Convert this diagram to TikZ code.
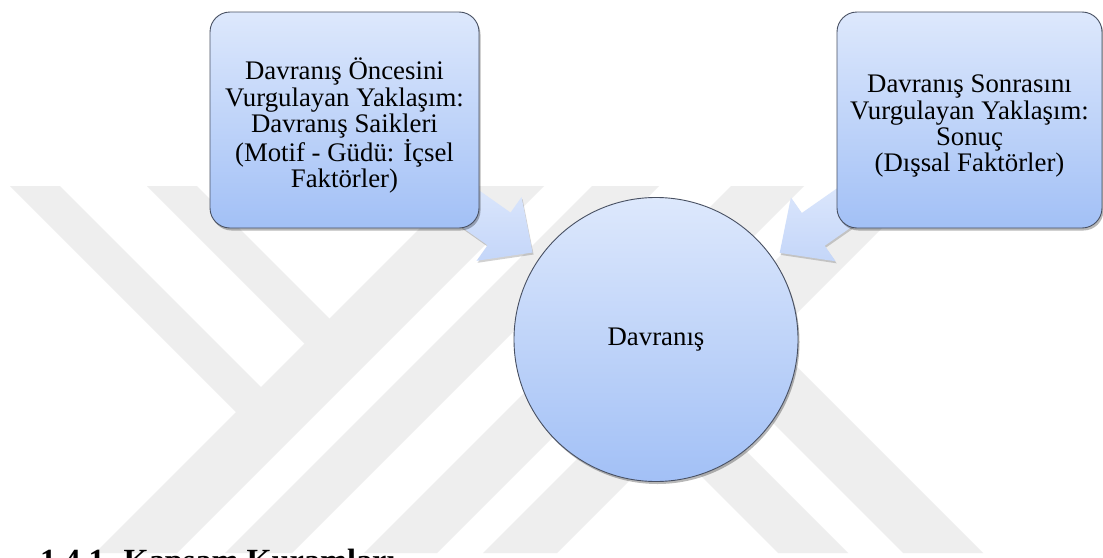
\documentclass[tikz,border=0pt]{standalone}
\usepackage{fontspec}
\setmainfont{Liberation Serif}
\usetikzlibrary{calc,shadows}
\definecolor{wm}{RGB}{238,238,238}
\definecolor{boxtop}{RGB}{221,232,252}
\definecolor{boxbot}{RGB}{162,192,246}
\definecolor{arrtop}{RGB}{223,233,252}
\definecolor{arrbot}{RGB}{196,214,249}
\definecolor{edge}{RGB}{72,80,98}
\pgfdeclarelayer{wmark}
\pgfdeclarelayer{arrows}
\pgfsetlayers{wmark,arrows,main}
\tikzset{
  stripe/.style={fill=wm, draw=none},
  softshadow/.style={drop shadow={shadow xshift=1.5pt, shadow yshift=-2.5pt, opacity=0.28, fill=black}},
  pbox/.style={draw=edge, line width=0.9pt, rounded corners=20pt,
    top color=boxtop, bottom color=boxbot, align=center, inner sep=0pt,
    font=\fontsize{26.8}{26.3}\selectfont, softshadow},
  pcircle/.style={circle, draw=edge, line width=0.9pt, minimum size=284pt,
    top color=boxtop, bottom color=boxbot, inner sep=0pt,
    font=\fontsize{26.8}{26.3}\selectfont, softshadow},
  barrow/.style={top color=arrtop, bottom color=arrbot, draw=none,
    drop shadow={shadow xshift=1pt, shadow yshift=-2pt, opacity=0.18, fill=black}},
  heading/.style={anchor=base west, inner sep=0pt, font=\bfseries\fontsize{32.3}{36}\selectfont}
}
\begin{document}
\begin{tikzpicture}[x=1pt,y=-1pt]
\useasboundingbox (0,0) rectangle (1103,557);
% watermark
\begin{pgfonlayer}{wmark}
  \fill[white] (0,0) rectangle (1103,557);
  \fill[stripe] (10,186) -- (60,186) -- (282,408) -- (257,433) -- cycle;
  \fill[stripe] (147,186) -- (197,186) -- (350.5,339.5) -- (325.5,364.5) -- cycle;
  \fill[stripe] (462,186) -- (544,186) -- (177,553) -- (95,553) -- cycle;
  \fill[stripe] (592,186) -- (659,186) -- (292,553) -- (225,553) -- cycle;
  \fill[stripe] (731,186) -- (804,186) -- (437,553) -- (364,553) -- cycle;
  \fill[stripe] (850,186) -- (924,186) -- (557,553) -- (483,553) -- cycle;
  \fill[stripe] (615,265) -- (655,225) -- (983,553) -- (903,553) -- cycle;
  \fill[stripe] (552.5,327.5) -- (587.5,292.5) -- (848,553) -- (778,553) -- cycle;
\end{pgfonlayer}
% nodes
\node[pbox, minimum width=269pt, minimum height=216pt] (lb) at (344.5,120)
  {\rule{0pt}{33pt}Davranış Öncesini\\Vurgulayan Yaklaşım:\\Davranış Saikleri\\(Motif - Güdü: İçsel\\Faktörler)};
\node[pbox, minimum width=265pt, minimum height=216pt] (rb) at (969.5,120)
  {\rule{0pt}{30pt}Davranış Sonrasını\\Vurgulayan Yaklaşım:\\Sonuç\\(Dışsal Faktörler)};
\node[pcircle] (c) at (656,339.5) {Davranış};
% arrows
\begin{pgfonlayer}{arrows}
  \foreach \b in {lb,rb}{
    \coordinate (\b t) at ($(c.center)!151pt!(\b.center)$);
    \coordinate (\b h) at ($(\b t)!41pt!(\b.center)$);
    \coordinate (\b o) at ($(\b t)!110pt!(\b.center)$);
    \path[barrow] ($(\b o)!20pt!90:(\b t)$) -- ($(\b h)!20pt!90:(\b t)$)
      -- ($(\b h)!39pt!90:(\b t)$) -- (\b t) -- ($(\b h)!39pt!-90:(\b t)$)
      -- ($(\b h)!20pt!-90:(\b t)$) -- ($(\b o)!20pt!-90:(\b t)$) -- cycle;
  }
\end{pgfonlayer}
% heading, cut by the lower edge
\begin{scope}
  \clip (0,0) rectangle (1103,557);
  \node[heading] (h) at (40,571) {1.4.1. Kapsam Kuramları};
\end{scope}
\end{tikzpicture}
\end{document}
